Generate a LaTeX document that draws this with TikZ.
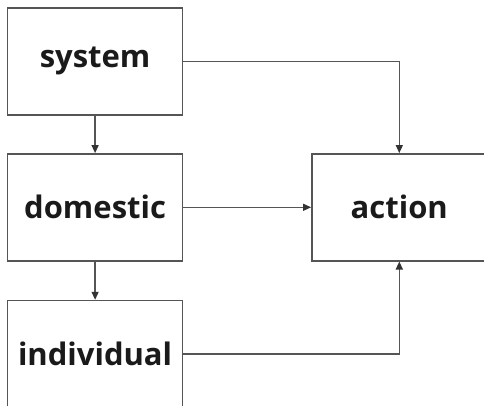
\documentclass[tikz,border=0pt]{standalone}
\usepackage{fontspec}
\setmainfont{Open Sans}
\usetikzlibrary{arrows.meta}
\definecolor{edge}{HTML}{555555}
\definecolor{tip}{HTML}{333333}
\definecolor{txt}{HTML}{1A1A1A}
\tikzset{
  box/.style={draw=edge, line width=1.4pt, fill=white, minimum width=175pt, minimum height=107pt, inner sep=0pt, font=\fontsize{31}{37}\selectfont\bfseries, text=txt},
  conn/.style={draw=edge, line width=1.3pt, -{Triangle[length=8pt,width=7pt,color=tip]}}
}
\begin{document}
\begin{tikzpicture}[x=1pt,y=1pt]
\useasboundingbox (0,0) rectangle (484,405);
\clip (0,0) rectangle (484,405);
\node[box] (system) at (95.1,343.6) {system};
\node[box] (domestic) at (95.1,197.7) {domestic};
\node[box] (individual) at (95.1,51) {individual};
\node[box] (action) at (399.3,197.7) {action};
\draw[conn] (system.south) -- (domestic.north);
\draw[conn] (domestic.south) -- (individual.north);
\draw[conn] (system.east) -| (action.north);
\draw[conn] (domestic.east) -- (action.west);
\draw[conn] (individual.east) -| (action.south);
\end{tikzpicture}
\end{document}
